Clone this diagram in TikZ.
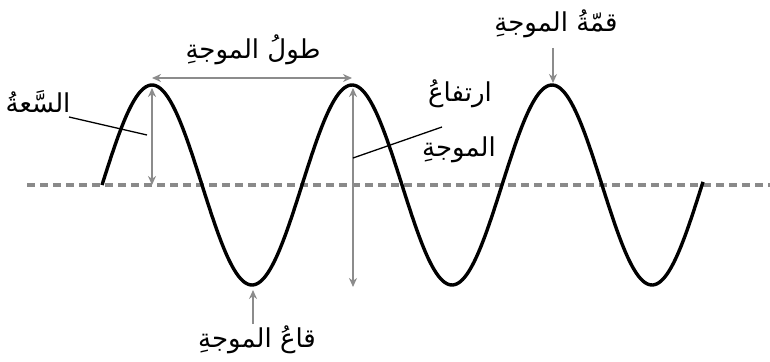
\documentclass[tikz,border=0pt]{standalone}
\usepackage{fontspec}
\usetikzlibrary{arrows.meta}
\TeXXeTstate=1
\newfontfamily\arabicfont[Script=Arabic]{DejaVu Sans}
\definecolor{arrgray}{HTML}{8C8C8C}
\definecolor{dashgray}{HTML}{8A8A8A}
\tikzset{
  lbl/.style={font=\arabicfont\fontsize{26}{29}\selectfont, inner sep=0pt},
  garrow/.style={draw=arrgray, line width=1.6pt, -{Stealth[length=9pt,width=8pt]}},
  gdarrow/.style={draw=arrgray, line width=1.6pt, {Stealth[length=9pt,width=8pt]}-{Stealth[length=9pt,width=8pt]}},
  leader/.style={draw=black, line width=1.3pt},
  wave/.style={draw=black, line width=3.4pt},
  axisline/.style={draw=dashgray, line width=3.4pt, dash pattern=on 8pt off 5pt}
}
\begin{document}
\begin{tikzpicture}[x=1pt,y=-1pt]
\useasboundingbox (0,0) rectangle (770,361);
% axis
\coordinate (axL) at (27,185);
\coordinate (axR) at (770,185);
\draw[axisline] (axL) -- (axR);
% wave
\draw[wave] plot[domain=102:703, samples=301, smooth] (\x, {185-100*sin(1.8*(\x-102))});
% key points
\coordinate (crest1) at (152,88);
\coordinate (crest2) at (353,88);
\coordinate (crest3) at (553,83);
\coordinate (trough1) at (253,290);
\coordinate (base1) at (152,185);
\coordinate (base2) at (353,287);
\coordinate (wlL) at (152,78);
\coordinate (wlR) at (352,78);
% labels
\node[lbl] (wavelength) at (253,50) {\beginR طولُ الموجةِ\endR};
\node[lbl] (amplitude) at (38,102) {\beginR السَّعةُ\endR};
\node[lbl] (crestlbl) at (556,24) {\beginR قمّةُ الموجةِ\endR};
\node[lbl] (height1) at (460,94) {\beginR ارتفاعُ\endR};
\node[lbl] (height2) at (459,150) {\beginR الموجةِ\endR};
\node[lbl] (troughlbl) at (257,340) {\beginR قاعُ الموجةِ\endR};
% gray arrows
\draw[gdarrow] (wlL) -- (wlR);
\draw[gdarrow] (crest1) -- (base1);
\draw[gdarrow] (crest2) -- (base2);
\coordinate (crestTop) at (553,48);
\draw[garrow] (crestTop) -- (crest3);
\coordinate (troughBot) at (253,324);
\draw[garrow] (troughBot) -- (trough1);
% leaders
\coordinate (ampA) at (69,117);
\coordinate (ampB) at (147,135);
\draw[leader] (ampA) -- (ampB);
\coordinate (htA) at (353,158);
\coordinate (htB) at (442,127);
\draw[leader] (htA) -- (htB);
\end{tikzpicture}
\end{document}
